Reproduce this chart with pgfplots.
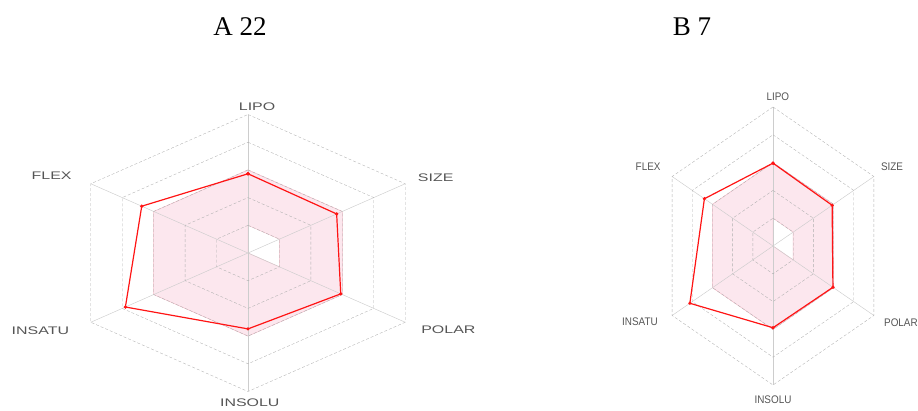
\documentclass[border=0pt]{standalone}
\usepackage{fontspec}
\setmainfont{Liberation Serif}
\newfontfamily\labfont{Liberation Sans}
\usepackage{pgfplots}
\pgfplotsset{compat=1.18}
\definecolor{gridc}{RGB}{205,205,205}
\definecolor{ringc}{RGB}{175,175,175}
\definecolor{pinkfill}{RGB}{252,231,238}
\definecolor{pinkline}{RGB}{244,190,202}
\definecolor{labc}{RGB}{85,85,85}
\definecolor{redc}{RGB}{255,20,20}
\pgfplotsset{
  radar/.style={scale only axis, axis lines=none, xmin=-5, xmax=5, ymin=-5, ymax=5,
    clip=false, anchor=center, ticks=none},
  ring/.style={ringc, densely dashed, line width=0.35pt, data cs=polar, forget plot},
  spoke/.style={gridc, line width=0.45pt, data cs=polar, forget plot},
}
% optimal range (pink zone): outer radius 3, inner radius 1 on LIPO, SIZE, POLAR and 0 elsewhere
\begin{document}
\begin{tikzpicture}
\path[use as bounding box] (0,0) rectangle (918pt,410pt);
\node[anchor=base, font=\fontsize{27}{27}\selectfont] at (240pt,374pt) {A 22};
\node[anchor=base, font=\fontsize{27}{27}\selectfont] at (692pt,374pt) {B 7};

% ---------------- A 22 ----------------
\begin{axis}[radar, at={(248pt,157pt)}, width=363pt, height=277pt]
\addplot[fill=pinkfill, draw=pinkline, line width=0.5pt, data cs=polar, forget plot] coordinates {(90,3)(150,3)(210,3)(270,3)(330,3)(30,3)(90,3)} -- cycle;
\addplot[fill=white, draw=pinkline, line width=0.4pt, data cs=polar, forget plot] coordinates {(90,1)(30,1)(-30,1)(0,0)(90,1)} -- cycle;
\addplot[spoke] coordinates {(90,5)(270,5)};
\addplot[spoke] coordinates {(30,5)(210,5)};
\addplot[spoke] coordinates {(150,5)(330,5)};
\addplot[ring] coordinates {(90,1)(30,1)(-30,1)(-90,1)(-150,1)(150,1)(90,1)};
\addplot[ring] coordinates {(90,2)(30,2)(-30,2)(-90,2)(-150,2)(150,2)(90,2)};
\addplot[ring] coordinates {(90,3)(30,3)(-30,3)(-90,3)(-150,3)(150,3)(90,3)};
\addplot[ring] coordinates {(90,4)(30,4)(-30,4)(-90,4)(-150,4)(150,4)(90,4)};
\addplot[ring] coordinates {(90,5)(30,5)(-30,5)(-90,5)(-150,5)(150,5)(90,5)};
\addplot[redc, line width=1.2pt, mark=*, mark size=1pt, data cs=polar] coordinates {(90,2.86)(30,2.82)(-30,2.95)(-90,2.74)(-150,3.9)(150,3.38)(90,2.86)};
\begin{scope}[every node/.style={font=\labfont\fontsize{11}{11}\selectfont, text=labc, xscale=1.45}]
\node at (axis cs:0.25,5.27) {LIPO};
\node at (axis cs:5.17,2.71) {SIZE};
\node at (axis cs:5.52,-2.78) {POLAR};
\node at (axis cs:0.05,-5.42) {INSOLU};
\node at (axis cs:-5.72,-2.82) {INSATU};
\node at (axis cs:-5.41,2.78) {FLEX};
\end{scope}
\end{axis}

% ---------------- B 7 ----------------
\begin{axis}[radar, at={(773pt,164pt)}, width=233pt, height=278pt]
\addplot[fill=pinkfill, draw=pinkline, line width=0.5pt, data cs=polar, forget plot] coordinates {(90,3)(150,3)(210,3)(270,3)(330,3)(30,3)(90,3)} -- cycle;
\addplot[fill=white, draw=pinkline, line width=0.4pt, data cs=polar, forget plot] coordinates {(90,1)(30,1)(-30,1)(0,0)(90,1)} -- cycle;
\addplot[spoke] coordinates {(90,5)(270,5)};
\addplot[spoke] coordinates {(30,5)(210,5)};
\addplot[spoke] coordinates {(150,5)(330,5)};
\addplot[ring] coordinates {(90,1)(30,1)(-30,1)(-90,1)(-150,1)(150,1)(90,1)};
\addplot[ring] coordinates {(90,2)(30,2)(-30,2)(-90,2)(-150,2)(150,2)(90,2)};
\addplot[ring] coordinates {(90,3)(30,3)(-30,3)(-90,3)(-150,3)(150,3)(90,3)};
\addplot[ring] coordinates {(90,4)(30,4)(-30,4)(-90,4)(-150,4)(150,4)(90,4)};
\addplot[ring] coordinates {(90,5)(30,5)(-30,5)(-90,5)(-150,5)(150,5)(90,5)};
\addplot[redc, line width=1.2pt, mark=*, mark size=1pt, data cs=polar] coordinates {(90,2.98)(30,2.93)(-30,2.97)(-90,2.94)(-150,4.12)(150,3.4)(90,2.98)};
\begin{scope}[every node/.style={font=\labfont\fontsize{11}{11}\selectfont, text=labc, xscale=0.9}]
\node at (axis cs:0.21,5.36) {LIPO};
\node at (axis cs:5.11,2.84) {SIZE};
\node at (axis cs:5.49,-2.77) {POLAR};
\node at (axis cs:0,-5.54) {INSOLU};
\node at (axis cs:-5.71,-2.73) {INSATU};
\node at (axis cs:-5.36,2.84) {FLEX};
\end{scope}
\end{axis}
\end{tikzpicture}
\end{document}
